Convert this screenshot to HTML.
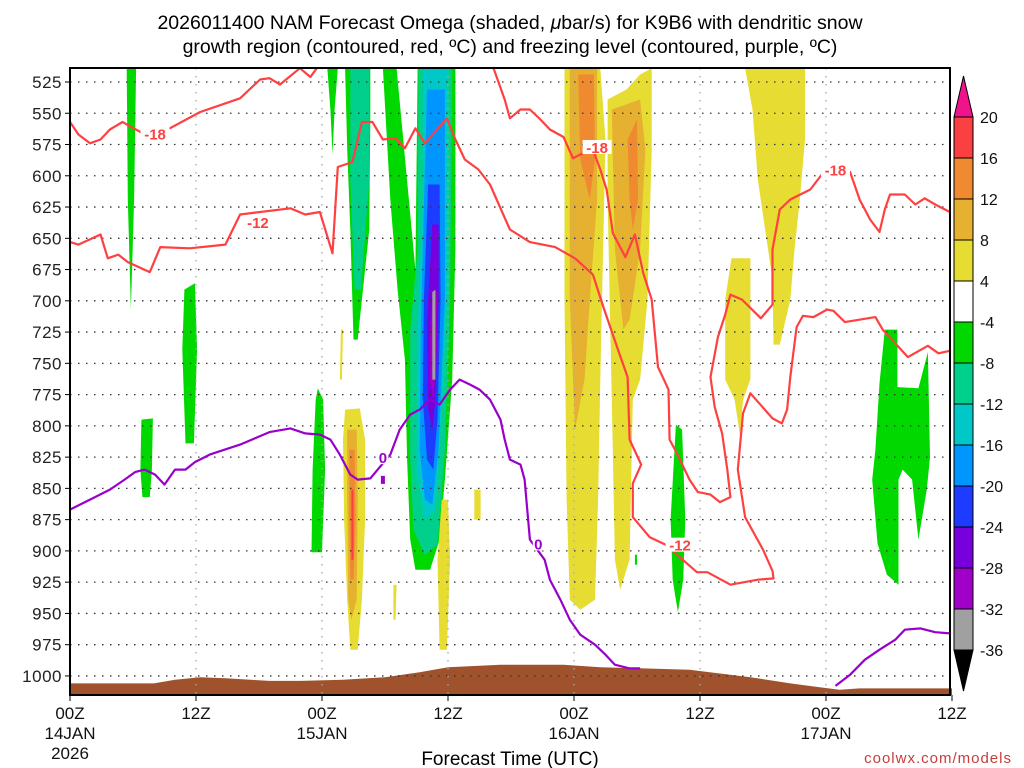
<!DOCTYPE html>
<html><head><meta charset="utf-8"><style>
html,body{margin:0;padding:0;background:#fff;}
svg{display:block;font-family:"Liberation Sans",sans-serif;}
</style></head><body>
<svg id="chart" width="1024" height="768" viewBox="0 0 1024 768" xmlns="http://www.w3.org/2000/svg">
<text x="510" y="29" font-size="19.5" text-anchor="middle" fill="#000">2026011400 NAM Forecast Omega (shaded, <tspan font-style="italic">μ</tspan>bar/s) for K9B6 with dendritic snow</text>
<text x="510" y="53" font-size="19.5" text-anchor="middle" fill="#000">growth region (contoured, red, ºC) and freezing level (contoured, purple, ºC)</text>
<g id="shade"></g>
<g id="ground"></g>
<g id="grid"></g>
<g id="lines"></g>
<g id="axes"></g>
<g id="cbar"></g>
<text x="510" y="765" font-size="19" text-anchor="middle">Forecast Time (UTC)</text>
<text x="1012" y="763" font-size="15" text-anchor="end" fill="#c83c3c" letter-spacing="1">coolwx.com/models</text>
</svg>
<script>
const pTicks=[525,550,575,600,625,650,675,700,725,750,775,800,825,850,875,900,925,950,975,1000];
const hTicks=[0,12,24,36,48,60,72,84];
const hLabels=[["00Z","14JAN","2026"],["12Z"],["00Z","15JAN"],["12Z"],["00Z","16JAN"],["12Z"],["00Z","17JAN"],["12Z"]];
const cbLevels=[20,16,12,8,4,-4,-8,-12,-16,-20,-24,-28,-32,-36];
const cbColors=["#fa4040","#f08a30","#e6b030","#e6dc32","#ffffff","#00d800","#00d08c","#00c8c8","#0096ff","#1e3cff","#7800dc","#a000c8","#a0a0a0"];
const shadeGreenA=[[5.4,514],[6.3,514],[6.1,619],[5.8,707],[5.5,619]];
const shadeGreenB=[[10.9,691],[11.9,686],[12.1,739],[11.8,814],[11.0,814],[10.7,739]];
const shadeGreenC=[[6.8,795],[7.9,794],[7.8,835],[7.6,857],[6.9,857],[6.7,835]];
const shadeGreenD=[[23.6,770],[24.1,779],[24.3,835],[24.0,901],[23.0,901],[23.1,835],[23.4,779]];
const shadeGreenE=[[24.5,514],[25.5,514],[25.2,547],[25.0,583],[24.8,547]];
const shadeGreenF=[[26.2,514],[28.6,514],[28.6,555],[28.5,643],[27.4,731],[27.0,731],[26.7,643],[26.4,579]];
const shadeTealF=[[26.7,514],[28.5,514],[28.5,603],[27.7,691],[27.1,691],[26.7,603]];
const shadeGreenBig=[[29.8,514],[31.1,514],[32.9,675],[33.1,514],[36.7,514],[36.7,659],[36.4,763],[35.7,843],[35.2,891],[34.3,915],[32.9,915],[32.4,891],[32.1,827],[31.9,747],[31.2,691],[30.5,619]];
const shadeTealBig=[[33.2,514],[36.4,514],[36.2,699],[35.7,819],[35.0,895],[33.8,903],[32.7,883],[32.4,827],[32.4,723],[33.1,659]];
const shadeCyan=[[33.6,514],[35.9,514],[35.9,699],[35.2,819],[34.8,867],[33.8,875],[33.0,835],[33.1,723],[33.6,619]];
const shadeLtBlue=[[34.0,531],[35.7,531],[35.7,699],[35.1,819],[34.5,863],[33.8,859],[33.3,819],[33.4,723]];
const shadeBlue=[[34.1,607],[35.2,607],[35.3,699],[35.0,795],[34.6,835],[34.0,827],[33.6,779],[33.7,699]];
const shadePurple=[[34.5,639],[35.1,639],[35.1,699],[34.8,779],[34.5,803],[34.1,787],[34.0,715]];
const shadeMagenta=[[34.6,693],[35.0,693],[34.9,747],[34.6,779],[34.3,763],[34.3,723]];
const shadeGray=[[34.5,693],[34.8,691],[34.8,763],[34.5,763]];
const shadeYelA=[[25.8,723],[26.0,723],[25.9,763],[25.7,763]];
const shadeYelB=[[26.2,787],[27.6,786],[28.1,811],[28.1,875],[27.8,939],[27.4,979],[26.7,979],[26.4,939],[26.1,875],[26.0,811]];
const shadeLoB=[[26.4,803],[27.3,803],[27.4,859],[27.3,939],[26.8,955],[26.5,939],[26.4,859]];
const shadeOrB=[[26.6,819],[27.1,819],[27.2,875],[27.0,923],[26.7,923],[26.6,875]];
const shadeRedB=[[26.8,851],[27.0,851],[27.0,907],[26.8,907]];
const shadeYelC=[[30.8,927],[31.1,927],[31.0,955],[30.8,955]];
const shadeYelD=[[35.4,859],[36.0,859],[36.2,907],[35.9,979],[35.2,979],[35.0,907]];
const shadeYelE=[[38.5,851],[39.1,851],[39.1,875],[38.5,875]];
const shadeYel1=[[47.1,514],[50.5,514],[51.0,571],[50.5,763],[50.3,859],[50.0,939],[48.6,947],[47.6,939],[47.3,859],[47.1,699]];
const shadeLo1=[[47.6,514],[50.2,514],[50.2,619],[49.5,699],[49.0,763],[48.1,803],[47.6,699]];
const shadeOr1=[[48.4,519],[49.9,519],[50.0,587],[49.5,619],[48.6,587]];
const shadeYel2=[[51.2,539],[53.0,531],[54.3,519],[55.4,514],[55.4,579],[55.0,699],[54.3,763],[53.6,779],[53.3,907],[52.4,931],[51.9,907],[51.6,779],[51.2,619]];
const shadeLo2=[[51.6,547],[54.3,539],[54.8,579],[54.3,659],[53.3,715],[52.7,723],[51.9,659]];
const shadeOr2=[[53.1,571],[54.0,555],[54.1,619],[53.6,643],[53.3,619]];
const shadeYel3=[[63.0,666],[64.8,666],[64.8,763],[64.1,779],[63.8,807],[63.3,779],[62.4,763],[62.4,699]];
const shadeYel4=[[64.3,514],[70.0,514],[70.0,571],[69.5,619],[69.0,659],[68.6,699],[67.6,735],[67.0,735],[66.9,683],[65.5,603],[65.0,547]];
const shadeGreenG=[[57.7,799],[58.3,803],[58.6,875],[58.4,923],[57.9,949],[57.4,923],[57.2,875]];
const shadeGreenH=[[53.8,903],[54.0,903],[54.0,911],[53.8,911]];
const shadeGreenI=[[77.6,723],[78.8,723],[78.8,769],[80.8,770],[81.7,741],[81.9,825],[81.6,851],[80.8,891],[80.2,843],[79.3,835],[78.9,843],[78.9,927],[77.8,919],[76.9,894],[76.4,843],[76.7,819],[77.1,766]];
const shadeOrder=[[5,shadeGreenA],[5,shadeGreenB],[5,shadeGreenC],[5,shadeGreenD],[5,shadeGreenE],[5,shadeGreenF],[6,shadeTealF],
 [5,shadeGreenBig],[6,shadeTealBig],[7,shadeCyan],[8,shadeLtBlue],[9,shadeBlue],[10,shadePurple],[11,shadeMagenta],[12,shadeGray],
 [3,shadeYelA],[3,shadeYelB],[2,shadeLoB],[1,shadeOrB],[0,shadeRedB],[3,shadeYelC],[3,shadeYelD],[3,shadeYelE],
 [3,shadeYel1],[2,shadeLo1],[1,shadeOr1],[3,shadeYel2],[2,shadeLo2],[1,shadeOr2],[3,shadeYel3],[3,shadeYel4],
 [5,shadeGreenG],[5,shadeGreenH],[5,shadeGreenI]];
const groundHours=[0,8,10,12.4,15,19,22,26,30,33.3,36,41,47,50.5,59,64.8,68.6,71.4,73.3,75.2,84];
const groundP=[1006,1006,1003,1001,1002,1004,1004,1003,1001,997,993,991,991,993,995,1001,1006,1009,1011,1010,1010];
const redA=[[0,557],[0.8,567],[1.9,574],[2.9,571],[3.8,563],[5,557],[6.7,565],[9.5,562],[12.4,549],[16.2,538],[18.1,523],[19,522],[20,527],[21.9,514]];
const redA2=[[21.9,514],[22.9,521],[23.5,514]];
const redB=[[0,653],[0.8,655],[2.9,647],[3.6,666],[4.6,663],[5.5,669],[7.6,677],[8.6,657],[11.4,658],[14.8,655],[16.2,631],[21,626],[22.4,631],[23.8,629],[25,662],[25.5,593],[26.9,589],[27.8,557],[28.8,557],[29.8,571],[31,570],[31.9,578],[32.9,562],[33.8,574],[35.9,554],[36.7,571],[37.6,587],[38.9,595],[40,607],[41.9,643],[43.8,653],[46.2,657],[48.1,666],[49.8,679],[50.8,705],[52.1,737],[53.1,761],[53.3,811],[54.4,831],[53.6,846],[53.6,873],[55.2,889],[56.7,895],[59.7,917],[60.7,917],[62.9,927],[65.5,923],[67,922],[66.9,916],[66,899],[64.3,873],[63.6,835],[64.1,790],[64.8,774],[66.9,794],[67.8,798],[68.3,787],[68.6,761],[69.2,721],[69.8,712],[70.8,713],[72.1,707],[72.7,708],[73.8,717],[76.7,713],[77.4,723],[79.8,745],[81.7,736],[82.7,742],[83.8,740]];
const redC=[[40.3,513],[41.4,539],[41.9,554],[42.9,547],[43.8,547],[44.8,555],[45.7,563],[47,569],[47.9,586],[48.6,583],[49.8,579],[50.5,595],[51.1,611],[51.7,646],[52.9,665],[53.8,647],[54.6,678],[55.4,699],[56,753],[56.5,762],[57,771],[57.1,811],[57.8,822],[59,843],[59.8,853],[61,855],[61.9,861],[62.9,857],[62.6,835],[62.1,806],[61.4,785],[61,761],[61.7,729],[62.4,711],[62.9,695],[64,699],[65.8,714],[66.9,703],[66.9,659],[67.6,627],[68.6,619],[70.5,611],[71.6,599],[72.9,595],[74.3,597],[75.2,619],[76.2,635],[77.1,645],[77.6,627],[78.1,615],[79.5,615],[80.5,623],[81.4,618],[82.4,623],[83.8,629]];
const redLabels=[["-18",8.1,566],["-12",17.9,637],["-18",50.2,577],["-12",58.1,895],["-18",72.9,595]];
const purpleA=[[0,867],[1.9,859],[3.8,851],[5.2,843],[6.2,837],[7.1,835],[8.1,839],[9,847],[10,835],[11,835],[11.9,829],[13.3,823],[16.2,815],[19,805],[21,802],[22.4,806],[23.8,807],[24.8,811],[25.7,823],[26.7,839],[27.4,843],[28.6,842],[30.5,823],[31.4,803],[32.4,791],[33.3,787],[34.3,779],[35.2,783],[36.2,771],[37.1,763],[38.1,767],[39,771],[40,779],[41,795],[41.4,811],[41.9,827],[42.9,831],[43.3,843],[43.8,891],[45.2,907],[45.7,923],[46.7,939],[47.6,955],[48.6,967],[50,975],[51,983],[51.9,991],[53.3,994],[54.3,994]];
const purpleB=[[72.9,1008],[74.3,999],[75.7,987],[77.1,979],[78.6,971],[79.5,963],[81,962],[82.4,965],[83.8,966]];
const purpleLabels=[["0",29.8,825],["0",44.6,894]];

const X=h=>70+h*10.5;
const Y=p=>82+(p-525)*1.2504;
const NS="http://www.w3.org/2000/svg";
function mk(tag,parent,attrs){const e=document.createElementNS(NS,tag);for(const k in attrs)e.setAttribute(k,attrs[k]);parent.appendChild(e);return e;}
const L=70,R=950,T=68,B=695;

const shade=document.getElementById('shade');
shadeOrder.forEach(([ci,pts])=>{
 const e=mk('polygon',shade,{points:pts.map(q=>X(q[0]).toFixed(1)+','+Y(q[1]).toFixed(1)).join(' '),fill:cbColors[ci]});
 
 
});

const g=document.getElementById('ground');
let gp='M'+X(groundHours[0])+','+B;
groundHours.forEach((h,i)=>{gp+=' L'+X(h).toFixed(1)+','+Y(groundP[i]).toFixed(1);});
gp+=' L'+X(groundHours[groundHours.length-1])+','+B+' Z';
const ge=mk('path',g,{d:gp,fill:'#a0522d'});



const grid=document.getElementById('grid');
pTicks.forEach(p=>{const e=mk('line',grid,{x1:L,x2:R,y1:Y(p),y2:Y(p),stroke:'#333','stroke-width':1.3,'stroke-dasharray':'1.5 6.5'});
 
 });
hTicks.slice(1,-1).forEach(h=>{const e=mk('line',grid,{x1:X(h),x2:X(h),y1:T,y2:B,stroke:'#aaa','stroke-width':1.3,'stroke-dasharray':'1.5 6.5'});
 
 });

const lines=document.getElementById('lines');
function poly(pts,color,name){const e=mk('polyline',lines,{points:pts.map(q=>X(q[0]).toFixed(1)+','+Y(q[1]).toFixed(1)).join(' '),fill:'none',stroke:color,'stroke-width':2.2,'stroke-linejoin':'round'});
 
 }
poly(redA,'#ff4040','dgz-contour-minus18-a');poly(redA2,'#ff4040','dgz-contour-minus18-b');
poly(redB,'#ff4040','dgz-contour-minus12');poly(redC,'#ff4040','dgz-contour-minus18-c');
poly(purpleA,'#9900cc','freezing-level-a');poly(purpleB,'#9900cc','freezing-level-b');
function lab(t,h,p,color,name){const x=X(h),y=Y(p);
 const w=t.length*9+2;
 const r=mk('rect',lines,{x:x-w/2,y:y-7,width:w,height:14,fill:'#fff'});
 
 
 const e=mk('text',lines,{x:x,y:y+6,'font-size':15,'font-weight':'bold','text-anchor':'middle',fill:color});e.textContent=t;
 
 }
redLabels.forEach(l=>lab(l[0],l[1],l[2],'#ff4040','contour-label'));
purpleLabels.forEach(l=>lab(l[0],l[1],l[2],'#9900cc','freezing-label'));
mk('rect',lines,{x:X(29.8)-2,y:Y(844)-5,width:4,height:8,fill:'#9900cc'});

const ax=document.getElementById('axes');
const fr=mk('rect',ax,{x:L,y:T,width:R-L,height:B-T,fill:'none',stroke:'#000','stroke-width':2});


pTicks.forEach(p=>{mk('line',ax,{x1:L-5,x2:L,y1:Y(p),y2:Y(p),stroke:'#000'});
 const t=mk('text',ax,{x:L-8,y:Y(p)+6,'font-size':17,'text-anchor':'end',fill:'#222','letter-spacing':'0.5'});t.textContent=p;
 
 });
hTicks.forEach((h,i)=>{mk('line',ax,{x1:X(h),x2:X(h),y1:B,y2:B+6,stroke:'#000'});
 hLabels[i].forEach((s,j)=>{const t=mk('text',ax,{x:X(h),y:719+j*20,'font-size':17,'text-anchor':'middle',fill:'#111'});t.textContent=s;
 
 });});

const cb=document.getElementById('cbar');
const cx=954,cw=19,c0=117,ch=41;
const tt=mk('polygon',cb,{points:`${cx},${c0} ${cx+cw},${c0} ${cx+cw/2},${c0-41}`,fill:'#f0148c',stroke:'#000'});


cbColors.forEach((c,i)=>{const e=mk('rect',cb,{x:cx,y:c0+i*ch,width:cw,height:ch,fill:c,stroke:'#000'});
 
 });
const bt=mk('polygon',cb,{points:`${cx},${c0+13*ch} ${cx+cw},${c0+13*ch} ${cx+cw/2},${c0+13*ch+41}`,fill:'#000',stroke:'#000'});


cbLevels.forEach((v,i)=>{const t=mk('text',cb,{x:980,y:c0+i*ch+6,'font-size':16,fill:'#111'});t.textContent=v;
 
 });
</script>
</body></html>
